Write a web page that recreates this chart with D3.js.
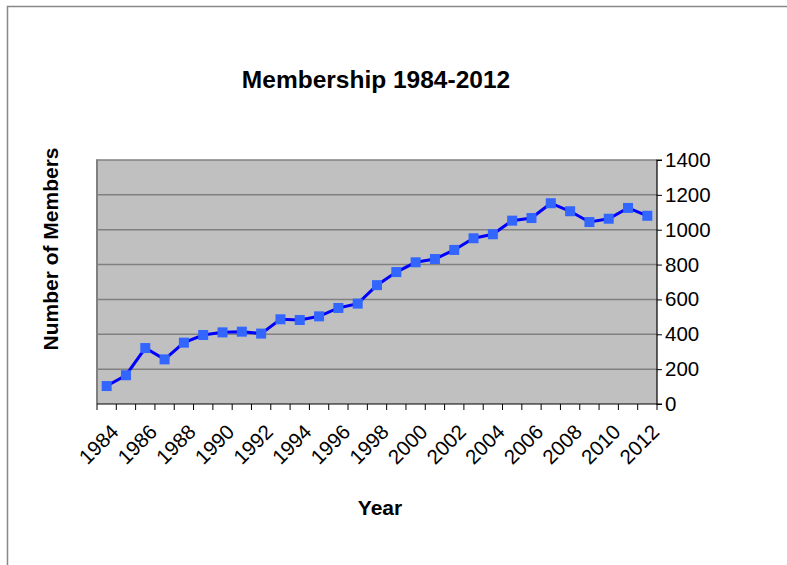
<!DOCTYPE html>
<html><head><meta charset="utf-8">
<script src="https://cdn.jsdelivr.net/npm/d3@7"></script>
<style>body{margin:0;background:#fff}svg{display:block}</style>
</head><body>
<svg id="c" width="787" height="565"></svg>
<script>
const years = d3.range(1984, 2013).map(String);
const members = [103,165,321,256,352,396,411,415,404,486,482,503,551,576,682,757,813,832,884,951,974,1052,1067,1152,1106,1044,1063,1125,1080];
const yTicks = [0,200,400,600,800,1000,1200,1400];
const xTickLabels = years.filter((d,i)=>i%2===0);

const svg = d3.select('#c');
const font = "'Liberation Sans', Arial, sans-serif";
const L=97, R=657, T=160, B=404;

// outer frame
svg.append('path').attr('d','M7.5,566 V6.5 H788').attr('fill','none').attr('stroke','#888').attr('stroke-width',1.5);

const x = d3.scaleBand().domain(years).range([L,R]);
const y = d3.scaleLinear().domain([0,1400]).range([B,T]);

svg.append('rect').attr('x',L).attr('y',T).attr('width',R-L).attr('height',B-T).attr('fill','#c0c0c0');

// gridlines
svg.append('g').selectAll('line').data(yTicks.filter(v=>v>0)).join('line')
  .attr('x1',L).attr('x2',R).attr('y1',d=>y(d)).attr('y2',d=>y(d))
  .attr('stroke','#808080').attr('stroke-width',1.5);
// left border of plot
svg.append('line').attr('x1',L).attr('x2',L).attr('y1',T-0.75).attr('y2',B).attr('stroke','#808080').attr('stroke-width',2);

// right axis
const yAxis = svg.append('g').attr('transform',`translate(${R},0)`)
  .call(d3.axisRight(y).tickValues(yTicks).tickSize(5).tickPadding(3).tickFormat(d3.format('d')));
yAxis.select('.domain').attr('stroke','#000').attr('stroke-width',1.2).attr('d',`M5,${T}H0V${B}H5`);
yAxis.selectAll('line').attr('stroke','#000');
yAxis.selectAll('text').attr('font-family',font).attr('font-size',20.5).attr('fill','#000');

// bottom axis with ticks at category boundaries
const bounds = years.map(d=>x(d)).concat([R]);
const xg = svg.append('g');
xg.append('line').attr('x1',L).attr('x2',R).attr('y1',B).attr('y2',B).attr('stroke','#000').attr('stroke-width',1.2);
xg.selectAll('line.t').data(bounds).join('line').attr('class','t')
  .attr('x1',d=>d).attr('x2',d=>d).attr('y1',B).attr('y2',B+6).attr('stroke','#000');
xg.selectAll('text').data(xTickLabels).join('text')
  .attr('transform',d=>`translate(${x(d)+x.bandwidth()/2+3},${B+19}) rotate(-45)`)
  .attr('text-anchor','end').attr('dy','0.7em')
  .attr('font-family',font).attr('font-size',20.5).text(d=>d);

// line
const line = d3.line().x((d,i)=>x(years[i])+x.bandwidth()/2).y(d=>y(d));
svg.append('path').datum(members).attr('d',line).attr('fill','none').attr('stroke','#0000ff').attr('stroke-width',3);
svg.append('g').selectAll('rect').data(members).join('rect')
  .attr('x',(d,i)=>x(years[i])+x.bandwidth()/2-5).attr('y',d=>y(d)-5)
  .attr('width',10).attr('height',10).attr('fill','#3366ff');

// titles
svg.append('text').attr('x',376).attr('y',88).attr('text-anchor','middle')
  .attr('font-family',font).attr('font-weight','bold').attr('font-size',24.5).text('Membership 1984-2012');
svg.append('text').attr('transform','translate(58,249) rotate(-90)').attr('text-anchor','middle')
  .attr('font-family',font).attr('font-weight','bold').attr('font-size',21).text('Number of Members');
svg.append('text').attr('x',380).attr('y',515).attr('text-anchor','middle')
  .attr('font-family',font).attr('font-weight','bold').attr('font-size',21).text('Year');
</script>
</body></html>
